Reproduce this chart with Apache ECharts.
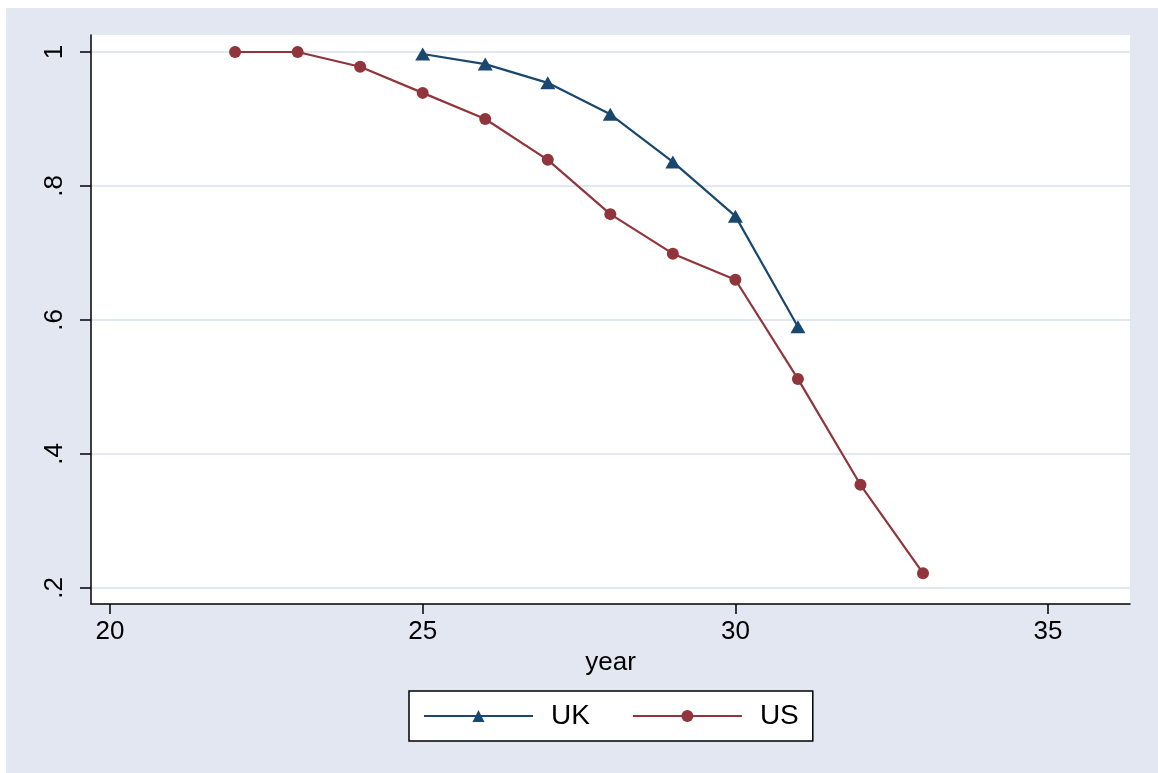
<!DOCTYPE html>
<html>
<head>
<meta charset="utf-8">
<script src="https://cdn.jsdelivr.net/npm/echarts@6/dist/echarts.min.js"></script>
<style>
  html, body { margin: 0; padding: 0; background: #fff; }
  #chart { width: 1158px; height: 773px; }
</style>
</head>
<body>
<div id="chart"></div>
<script>
// years on the x axis
const years = [22, 23, 24, 25, 26, 27, 28, 29, 30, 31, 32, 33];
// share still in place (null = no value that year)
const ukValues = [null, null, null, 0.997, 0.982, 0.954, 0.907, 0.836, 0.755, 0.590, null, null];
const usValues = [1.0, 1.0, 0.978, 0.939, 0.900, 0.839, 0.758, 0.699, 0.660, 0.512, 0.354, 0.222];
// tick positions and labels
const xTicks = [20, 25, 30, 35];
const yTicks = [0.2, 0.4, 0.6, 0.8, 1];
const yTickLabels = { 0.2: '.2', 0.4: '.4', 0.6: '.6', 0.8: '.8', 1: '1' };

const font = 'Liberation Sans, Arial, sans-serif';
const bg = '#e2e7f1';

const pairs = (vals) => years.map((y, i) => [y, vals[i]]).filter((p) => p[1] !== null);

const chart = echarts.init(document.getElementById('chart'));
chart.setOption({
  backgroundColor: '#fff',
  animation: false,
  textStyle: { fontFamily: font },
  graphic: [
    {
      type: 'rect',
      z: -10,
      shape: { x: 6, y: 8, width: 1152, height: 765 },
      style: { fill: bg }
    }
  ],
  grid: {
    left: 91,
    right: 28,
    top: 35,
    bottom: 169,
    show: true,
    backgroundColor: '#fff',
    borderWidth: 0
  },
  xAxis: {
    type: 'value',
    min: 19.696,
    max: 36.31,
    name: 'year',
    nameLocation: 'middle',
    nameGap: 45,
    nameTextStyle: { color: '#000', fontSize: 26, fontFamily: font },
    axisLine: { show: true, onZero: false, lineStyle: { color: '#000', width: 1.5 } },
    axisTick: { show: true, customValues: xTicks, length: 10, lineStyle: { color: '#000', width: 1.5 } },
    axisLabel: { customValues: xTicks, color: '#000', fontSize: 26, margin: 15 },
    splitLine: { show: false }
  },
  yAxis: {
    type: 'value',
    min: 0.176,
    max: 1.0254,
    axisLine: { show: true, onZero: false, lineStyle: { color: '#000', width: 1.5 } },
    axisTick: { show: true, customValues: yTicks, length: 11, lineStyle: { color: '#000', width: 1.5 } },
    axisLabel: {
      customValues: yTicks,
      rotate: 90,
      color: '#000',
      fontSize: 26,
      margin: 23,
      formatter: (v) => yTickLabels[Math.round(v * 10) / 10] || v
    },
    splitLine: { show: true, lineStyle: { color: bg, width: 2 } }
  },
  legend: {
    left: 409,
    top: 691,
    orient: 'horizontal',
    backgroundColor: '#fff',
    borderColor: '#000',
    borderWidth: 1.5,
    borderRadius: 0,
    padding: [11, 14, 11, 14],
    itemWidth: 109,
    itemHeight: 15,
    itemGap: 42,
    textStyle: { color: '#000', fontSize: 28, fontFamily: font, padding: [0, 0, 0, 13] },
    data: ['UK', 'US']
  },
  series: [
    {
      name: 'UK',
      type: 'line',
      data: pairs(ukValues),
      symbol: 'triangle',
      symbolSize: [15, 13],
      itemStyle: { color: '#1a476f' },
      lineStyle: { color: '#1a476f', width: 2.2 }
    },
    {
      name: 'US',
      type: 'line',
      data: pairs(usValues),
      symbol: 'circle',
      symbolSize: 12,
      itemStyle: { color: '#90353b' },
      lineStyle: { color: '#90353b', width: 2.2 }
    }
  ]
});
</script>
</body>
</html>
